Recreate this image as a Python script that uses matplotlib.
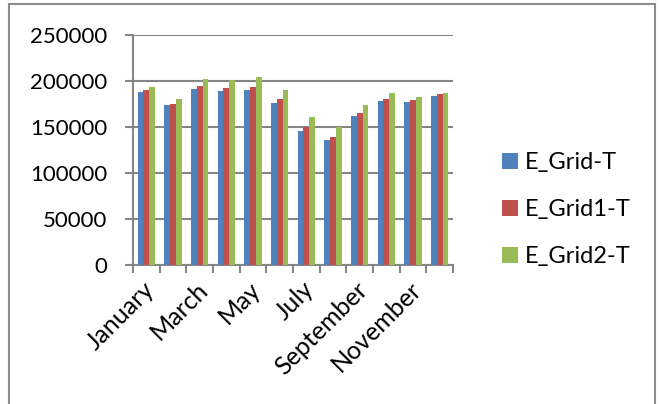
import numpy as np
import matplotlib.pyplot as plt
import matplotlib.transforms as mtransforms
from matplotlib.patches import Rectangle

months = ['January', 'February', 'March', 'April', 'May', 'June', 'July',
          'August', 'September', 'October', 'November', 'December']
e_grid = [188400, 173500, 191700, 189500, 189800, 176400, 145600, 135500,
          161900, 178300, 177200, 183700]
e_grid1 = [189800, 175300, 194600, 192400, 193500, 180400, 149600, 138800,
           164900, 180400, 179300, 185900]
e_grid2 = [193100, 180800, 201800, 201100, 204700, 189800, 160900, 149600,
           173500, 186600, 182600, 186900]
series_names = ['E_Grid-T', 'E_Grid1-T', 'E_Grid2-T']
colors = ['#4F81BD', '#C0504D', '#9BBB59']

plt.rcParams['font.family'] = ['Lato', 'DejaVu Sans']

fig = plt.figure(figsize=(6.59, 4.04), dpi=100)
W, H = 659, 404
ax = fig.add_axes([133 / W, (H - 265) / H, (453 - 133) / W, (265 - 35) / H])

# outer chart border
fig.patches.append(Rectangle((9 / W, -0.05), (655 - 9) / W, 1.05 - 4 / H,
                             transform=fig.transFigure, fill=False,
                             edgecolor='#8c8c8c', linewidth=1.5))

x = np.arange(len(months))
w = 0.22
for i, (vals, name, c) in enumerate(zip([e_grid, e_grid1, e_grid2], series_names, colors)):
    ax.bar(x + (i - 1) * w, vals, width=w, color=c, label=name, zorder=3)

ax.set_xlim(-0.5, len(months) - 0.5)
ax.set_ylim(0, 250000)
ax.set_yticks(range(0, 250001, 50000))
ax.yaxis.grid(True, color='#868686', linewidth=1.5, zorder=0)
ax.tick_params(axis='y', length=6, width=1.5, color='#868686', labelsize=16, pad=12.5)

# category labels every other month, tick marks between categories
ax.set_xticks(x[::2])
ax.set_xticklabels(months[::2], rotation=45, ha='right', rotation_mode='anchor', fontsize=18)
ax.tick_params(axis='x', length=0, pad=9)
shift = mtransforms.ScaledTranslation(-4 / 100, 0, fig.dpi_scale_trans)
for lbl in ax.get_xticklabels():
    lbl.set_transform(lbl.get_transform() + shift)
ax.set_xticks(np.arange(-0.5, len(months)), minor=True)
ax.tick_params(axis='x', which='minor', length=6, width=1.5, color='#868686')

for s in ['top', 'right']:
    ax.spines[s].set_visible(False)
for s in ['left', 'bottom']:
    ax.spines[s].set_color('#868686')
    ax.spines[s].set_linewidth(1.5)

fig.legend(loc='upper left', bbox_to_anchor=(481 / W, 1 - 131 / H), frameon=False,
           fontsize=17, handlelength=0.65, handleheight=0.65, handletextpad=0.3,
           labelspacing=1.1)

fig.savefig('out.png', dpi=100)
